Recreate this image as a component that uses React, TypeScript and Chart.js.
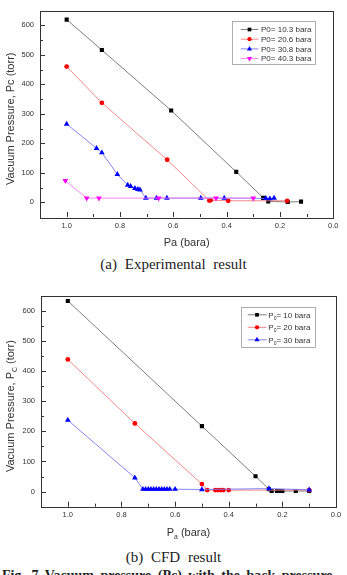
import React, { useEffect, useRef } from 'react';
import { Chart, registerables } from 'chart.js';
import { drawPoint } from 'chart.js/helpers';

Chart.register(...registerables);

// ---------- (a) Experimental result: Pa (bara) vs Pc (torr) ----------
const expPaP103 = [1.0, 0.868, 0.608, 0.364, 0.263, 0.244, 0.171, 0.121];
const expPcP103 = [619, 516, 311, 103, 15, 3, 1, 2];

const expPaP206 = [1.0, 0.868, 0.623, 0.465, 0.46, 0.394, 0.173];
const expPcP206 = [460, 337, 144, 6, 7, 5, 5];

const expPaP308 = [1.0, 0.888, 0.868, 0.81, 0.771, 0.76, 0.744, 0.733, 0.725, 0.703, 0.663, 0.624, 0.497, 0.409, 0.253, 0.238, 0.222];
const expPcP308 = [265, 183, 168, 95, 58, 54, 47, 44, 42, 14, 14, 14, 14, 14, 13, 12, 14];

const expPaP403 = [1.005, 0.925, 0.879, 0.655, 0.44, 0.3];
const expPcP403 = [73, 14, 14, 14, 14, 14];

// ---------- (b) CFD result ----------
const cfdPaP10 = [1.0, 0.5, 0.3, 0.25, 0.24, 0.22, 0.21, 0.2, 0.15, 0.1];
const cfdPcP10 = [632, 217, 51, 8, 2, 2, 2, 2, 2, 2];

const cfdPaP20 = [1.0, 0.75, 0.5, 0.48, 0.45, 0.44, 0.43, 0.42, 0.4, 0.1];
const cfdPcP20 = [438, 226, 25, 5, 5, 5, 5, 5, 5, 5];

const cfdPaP30 = [1.0, 0.75, 0.72, 0.71, 0.7, 0.69, 0.68, 0.67, 0.66, 0.65, 0.64, 0.63, 0.62, 0.6, 0.5, 0.25, 0.1];
const cfdPcP30 = [237, 46, 8, 8, 8, 8, 8, 8, 8, 8, 8, 8, 8, 8, 7, 10, 6];

// ---------- axes ----------
const xTickValues = [1.0, 0.8, 0.6, 0.4, 0.2, 0.0];
const yTickValues = [0, 100, 200, 300, 400, 500, 600];
const xRange = { min: 0, max: 1.1 };
const yRange = { min: -50, max: 650 };

const INK = '#333';
const FONT = '"Liberation Sans", Arial, Helvetica, sans-serif';

type Seg = { t: string; sub: boolean };

// "_x" marks a single subscript character
function parseRich(s: string): Seg[] {
  const out: Seg[] = [];
  let buf = '';
  for (let i = 0; i < s.length; i++) {
    if (s[i] === '_' && i + 1 < s.length) {
      if (buf) out.push({ t: buf, sub: false });
      buf = '';
      out.push({ t: s[i + 1], sub: true });
      i++;
    } else buf += s[i];
  }
  if (buf) out.push({ t: buf, sub: false });
  return out;
}

function drawRich(ctx: CanvasRenderingContext2D, s: string, x: number, y: number, size: number, align: 'left' | 'center') {
  const segs = parseRich(s);
  const subSize = size * 0.62;
  const widths = segs.map((g) => {
    ctx.font = `${g.sub ? subSize : size}px ${FONT}`;
    return ctx.measureText(g.t).width;
  });
  const total = widths.reduce((a, b) => a + b, 0);
  let cx = align === 'center' ? x - total / 2 : x;
  ctx.textAlign = 'left';
  ctx.textBaseline = 'alphabetic';
  segs.forEach((g, i) => {
    ctx.font = `${g.sub ? subSize : size}px ${FONT}`;
    ctx.fillText(g.t, cx, g.sub ? y + size * 0.28 : y);
    cx += widths[i];
  });
}

const paperPlugin = {
  id: 'paper',
  beforeDatasetsDraw(chart: any) {
    const { ctx, chartArea: ca, scales } = chart;
    const xs = scales.x;
    const ys = scales.y;
    ctx.save();
    ctx.strokeStyle = INK;
    ctx.lineWidth = 1;
    ctx.beginPath();
    const inside = (v: number, lo: number, hi: number) => v > lo + 0.5 && v < hi - 0.5;
    // left axis: major + minor inward ticks
    for (let i = 0; i < yTickValues.length; i++) {
      const v = yTickValues[i];
      const py = Math.round(ys.getPixelForValue(v)) + 0.5;
      if (inside(py, ca.top, ca.bottom)) { ctx.moveTo(ca.left, py); ctx.lineTo(ca.left + 5, py); }
      if (i < yTickValues.length - 1) {
        const m = Math.round(ys.getPixelForValue((v + yTickValues[i + 1]) / 2)) + 0.5;
        ctx.moveTo(ca.left, m); ctx.lineTo(ca.left + 3, m);
      }
    }
    // bottom axis
    for (let i = 0; i < xTickValues.length; i++) {
      const v = xTickValues[i];
      const px = Math.round(xs.getPixelForValue(v)) + 0.5;
      if (inside(px, ca.left, ca.right)) { ctx.moveTo(px, ca.bottom); ctx.lineTo(px, ca.bottom - 5); }
      if (i < xTickValues.length - 1) {
        const m = Math.round(xs.getPixelForValue((v + xTickValues[i + 1]) / 2)) + 0.5;
        ctx.moveTo(m, ca.bottom); ctx.lineTo(m, ca.bottom - 3);
      }
    }
    ctx.stroke();
    ctx.strokeRect(Math.round(ca.left) + 0.5, Math.round(ca.top) + 0.5, Math.round(ca.width), Math.round(ca.height));
    ctx.restore();
  },
  afterDraw(chart: any, _args: any, opts: any) {
    const { ctx, chartArea: ca } = chart;
    ctx.save();
    ctx.fillStyle = INK;
    // axis titles
    drawRich(ctx, opts.xTitle, (ca.left + ca.right) / 2, ca.bottom + 25 + 11 * 0.36, 11, 'center');
    ctx.save();
    ctx.translate(10, (ca.top + ca.bottom) / 2 + 5);
    ctx.rotate(-Math.PI / 2);
    drawRich(ctx, opts.yTitle, 0, 11 * 0.36, 11, 'center');
    ctx.restore();

    // legend
    const L = opts.legend;
    const bx = ca.right - L.right;
    const by = ca.top + L.top;
    ctx.fillStyle = '#fff';
    ctx.fillRect(bx, by, L.width, L.height);
    ctx.strokeStyle = '#999';
    ctx.lineWidth = 0.8;
    ctx.strokeRect(Math.round(bx) + 0.5, Math.round(by) + 0.5, Math.round(L.width), Math.round(L.height));
    chart.data.datasets.forEach((ds: any, i: number) => {
      const ry = by + L.row0 + i * L.step;
      ctx.strokeStyle = ds.borderColor;
      ctx.lineWidth = 0.9;
      ctx.beginPath();
      ctx.moveTo(bx + L.lineFrom, ry);
      ctx.lineTo(bx + L.lineTo, ry);
      ctx.stroke();
      ctx.fillStyle = ds.pointBackgroundColor;
      drawPoint(ctx, { pointStyle: ds.pointStyle, rotation: ds.pointRotation || 0, radius: ds.pointRadius * 0.9, borderWidth: 0 } as any, bx + L.mark, ry);
      ctx.fillStyle = INK;
      drawRich(ctx, ds.label, bx + L.text, ry + 8 * 0.36, 8, 'left');
    });
    ctx.restore();
  },
};

type Series = { label: string; pa: number[]; pc: number[]; line: string; mark: string; style: string; radius: number; rotation?: number };

function buildConfig(series: Series[], pad: { top: number; right: number }, yWidth: number, xHeight: number, xTitle: string, yTitle: string, legend: any) {
  const n = series.length;
  return {
    type: 'line' as const,
    data: {
      datasets: series.map((s, i) => ({
        label: s.label,
        data: s.pa.map((x, k) => ({ x, y: s.pc[k] })),
        borderColor: s.line,
        borderWidth: 0.9,
        pointStyle: s.style,
        pointRotation: s.rotation || 0,
        pointRadius: s.radius,
        pointBackgroundColor: s.mark,
        pointBorderColor: s.mark,
        pointBorderWidth: 0,
        tension: 0,
        fill: false,
        order: n - i,
      })),
    },
    options: {
      responsive: false,
      animation: false,
      events: [],
      layout: { padding: { left: 0, top: pad.top, right: pad.right, bottom: 0 } },
      plugins: {
        legend: { display: false },
        tooltip: { enabled: false },
        paper: { xTitle, yTitle, legend },
      },
      scales: {
        x: {
          type: 'linear',
          reverse: true,
          min: xRange.min,
          max: xRange.max,
          grid: { display: false, drawTicks: false },
          border: { display: false },
          afterBuildTicks: (s: any) => { s.ticks = xTickValues.map((v) => ({ value: v })); },
          afterFit: (s: any) => { s.height = xHeight; },
          ticks: {
            padding: 4,
            color: INK,
            font: { family: FONT, size: 7.5 },
            maxRotation: 0,
            autoSkip: false,
            callback: (v: any) => Number(v).toFixed(1),
          },
        },
        y: {
          type: 'linear',
          min: yRange.min,
          max: yRange.max,
          grid: { display: false, drawTicks: false },
          border: { display: false },
          afterBuildTicks: (s: any) => { s.ticks = yTickValues.map((v) => ({ value: v })); },
          afterFit: (s: any) => { s.width = yWidth; },
          ticks: {
            padding: 6,
            color: INK,
            font: { family: FONT, size: 7.5 },
            autoSkip: false,
            callback: (v: any) => String(v),
          },
        },
      },
    },
    plugins: [paperPlugin],
  };
}

function ChartPanel({ config, top, height }: { config: any; top: number; height: number }) {
  const ref = useRef<HTMLCanvasElement>(null);
  useEffect(() => {
    if (!ref.current) return;
    const chart = new Chart(ref.current, config);
    return () => chart.destroy();
  }, [config]);
  return (
    <canvas
      ref={ref}
      width={347}
      height={height}
      style={{ position: 'absolute', left: 0, top, width: 347, height, display: 'block' }}
    />
  );
}

const expSeries: Series[] = [
  { label: 'P0= 10.3 bara', pa: expPaP103, pc: expPcP103, line: '#6f6f6f', mark: '#000', style: 'rect', radius: 2.9 },
  { label: 'P0= 20.6 bara', pa: expPaP206, pc: expPcP206, line: '#f27a7a', mark: '#f00', style: 'circle', radius: 2.4 },
  { label: 'P0= 30.8 bara', pa: expPaP308, pc: expPcP308, line: '#7878f5', mark: '#00f', style: 'triangle', radius: 3.3 },
  { label: 'P0= 40.3 bara', pa: expPaP403, pc: expPcP403, line: '#f57af5', mark: '#f0f', style: 'triangle', radius: 3.3, rotation: 180 },
];

const cfdSeries: Series[] = [
  { label: 'P_0= 10 bara', pa: cfdPaP10, pc: cfdPcP10, line: '#6f6f6f', mark: '#000', style: 'rect', radius: 2.9 },
  { label: 'P_0= 20 bara', pa: cfdPaP20, pc: cfdPcP20, line: '#f27a7a', mark: '#f00', style: 'circle', radius: 2.4 },
  { label: 'P_0= 30 bara', pa: cfdPaP30, pc: cfdPcP30, line: '#7878f5', mark: '#00f', style: 'triangle', radius: 3.3 },
];

const expConfig = buildConfig(
  expSeries, { top: 5, right: 13.7 }, 40, 33,
  'Pa (bara)', 'Vacuum Pressure, Pc (torr)',
  { right: 101, top: 10, width: 83.4, height: 43.3, row0: 9, step: 9.7, lineFrom: 8.4, lineTo: 26, mark: 17.2, text: 28.7 },
);

const cfdConfig = buildConfig(
  cfdSeries, { top: 10, right: 11 }, 41, 33.3,
  'P_a (bara)', 'Vacuum Pressure, P_C (torr)',
  { right: 95.3, top: 11.7, width: 73.6, height: 40, row0: 7.6, step: 12.5, lineFrom: 7, lineTo: 26, mark: 16.3, text: 27.6 },
);

const captionStyle: React.CSSProperties = {
  position: 'absolute',
  left: 0,
  width: 347,
  textAlign: 'center',
  fontFamily: '"Liberation Serif", "Times New Roman", serif',
  fontSize: 15,
  lineHeight: '18px',
  wordSpacing: 4,
  color: '#222',
  whiteSpace: 'nowrap',
};

export default function App() {
  return (
    <div style={{ position: 'fixed', left: 0, top: 0, width: 347, height: 575, overflow: 'hidden', background: '#fff' }}>
      <ChartPanel config={expConfig} top={0} height={250} />
      <div style={{ ...captionStyle, top: 255 }}>(a) Experimental result</div>
      <ChartPanel config={cfdConfig} top={285} height={255} />
      <div style={{ ...captionStyle, top: 548 }}>(b) CFD result</div>
      <div
        style={{
          position: 'absolute',
          left: 2,
          top: 568,
          fontFamily: '"Liberation Serif", "Times New Roman", serif',
          fontWeight: 'bold',
          fontSize: 14,
          lineHeight: '16px',
          wordSpacing: 3,
          color: '#222',
          whiteSpace: 'nowrap',
        }}
      >
        Fig. 7 Vacuum pressure (Pc) with the back pressure
      </div>
    </div>
  );
}
